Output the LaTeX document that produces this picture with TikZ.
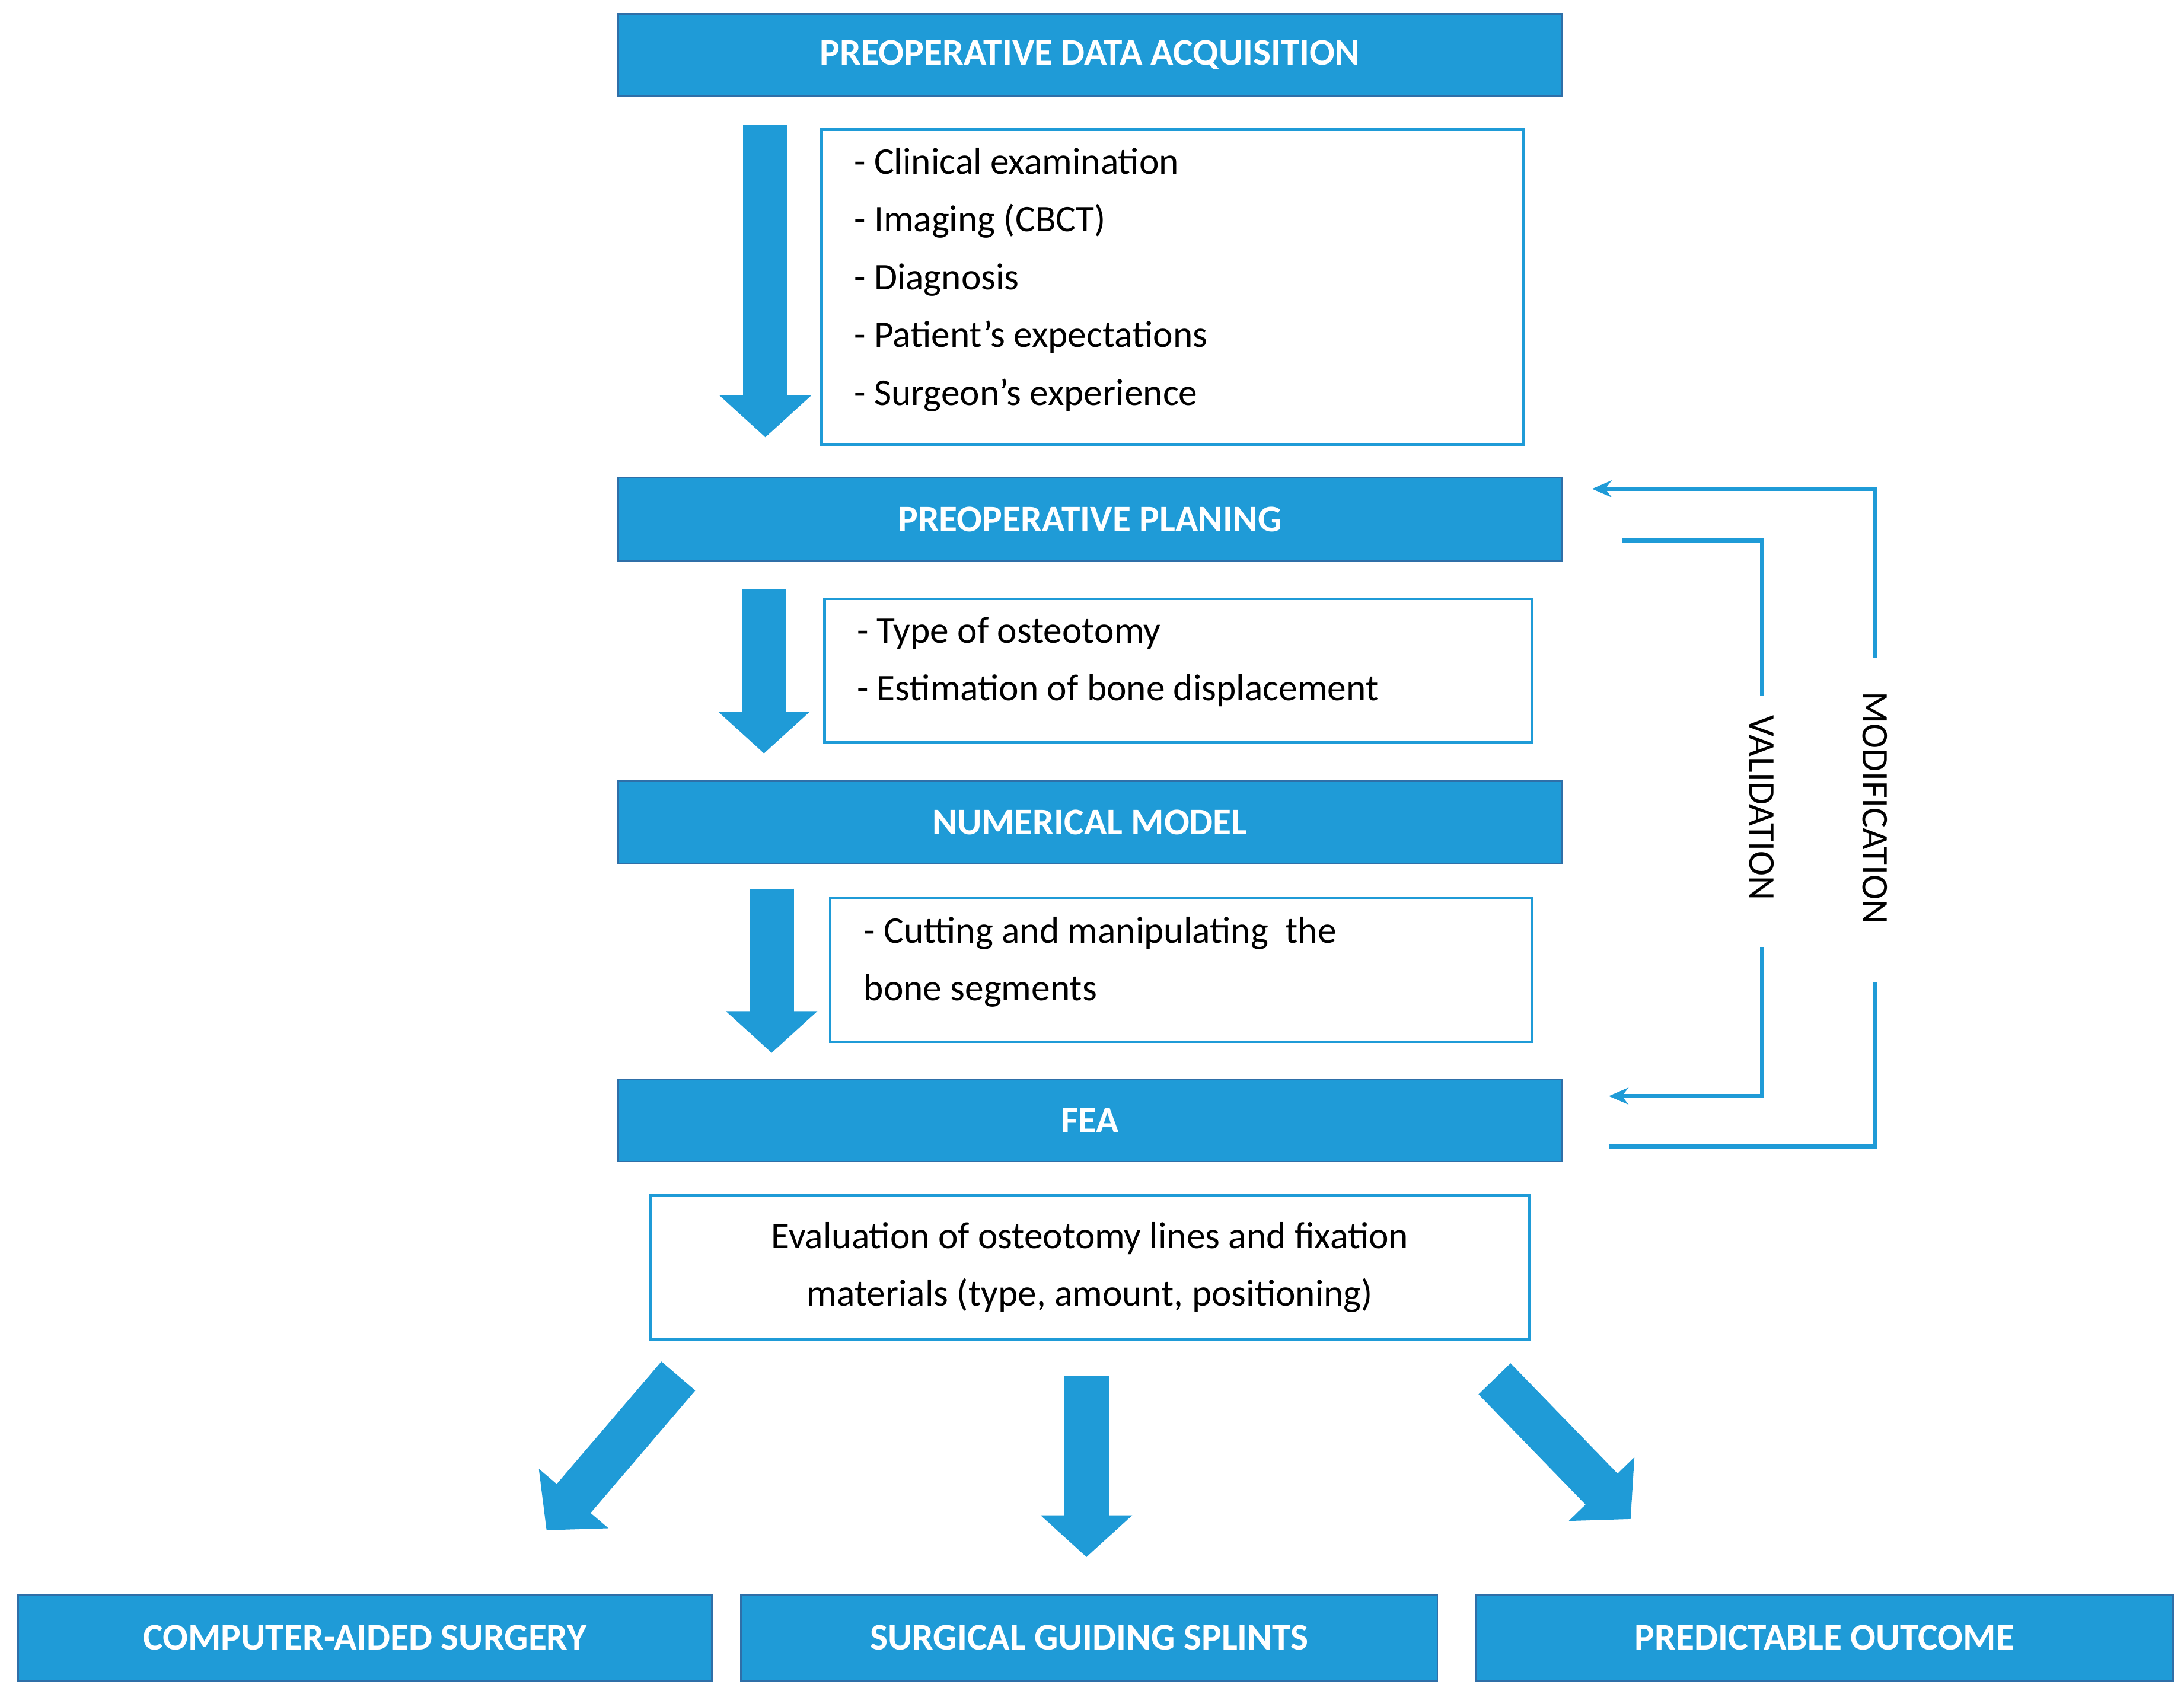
\documentclass[tikz,border=0pt]{standalone}
\usepackage{fontspec}
\setmainfont{Carlito}
\usetikzlibrary{arrows.meta}
\definecolor{bl}{HTML}{1F9BD7}
\definecolor{bd}{HTML}{2F6FA8}
\begin{document}
\begin{tikzpicture}[x=1pt,y=-1pt,
 hdr/.style={draw=bd,line width=1.2pt,fill=bl,text=white,font=\fontsize{27}{32}\selectfont\bfseries,inner sep=0pt},
 lst/.style={draw=bl,line width=2pt,fill=white,font=\fontsize{27}{41.5}\selectfont,inner sep=0pt},
 big/.style={bl,line width=32pt,-{Triangle[width=64pt,length=30pt]}},
 loop/.style={bl,line width=3pt},
 loopa/.style={loop,-{Stealth[length=14pt,width=12pt]}}]
\useasboundingbox (0,0) rectangle (1568,1216);
\fill[white] (0,0) rectangle (1568,1216);
% headers
\node[hdr,minimum width=677pt,minimum height=59pt] (h1) at (782.5,39.5) {PREOPERATIVE DATA ACQUISITION};
\node[hdr,minimum width=677pt,minimum height=60pt] (h2) at (782.5,373) {PREOPERATIVE PLANING};
\node[hdr,minimum width=677pt,minimum height=59pt] (h3) at (782.5,590.5) {NUMERICAL MODEL};
\node[hdr,minimum width=677pt,minimum height=59pt] (h4) at (782.5,804.5) {FEA};
\node[hdr,minimum width=498pt,minimum height=62pt] (b1) at (262,1176) {COMPUTER-AIDED SURGERY};
\node[hdr,minimum width=500pt,minimum height=62pt] (b2) at (782,1176) {SURGICAL GUIDING SPLINTS};
\node[hdr,minimum width=500pt,minimum height=62pt] (b3) at (1310,1176) {PREDICTABLE OUTCOME};
% lists
\node[lst,minimum width=504pt,minimum height=226pt] (l1) at (842,206) {};
\node[anchor=north west,font=\fontsize{27}{41.5}\selectfont,align=left,inner sep=0pt] (t1) at (613,106) {- Clinical examination\\- Imaging (CBCT)\\- Diagnosis\\- Patient’s expectations\\- Surgeon’s experience};
\node[lst,minimum width=508pt,minimum height=103pt] (l2) at (846,481.5) {};
\node[anchor=north west,font=\fontsize{27}{41.5}\selectfont,align=left,inner sep=0pt] (t2) at (615,443) {- Type of osteotomy\\- Estimation of bone displacement};
\node[lst,minimum width=504pt,minimum height=103pt] (l3) at (848,696.5) {};
\node[anchor=north west,font=\fontsize{27}{41.5}\selectfont,align=left,inner sep=0pt] (t3) at (620,658) {- Cutting and manipulating\ \ the\\bone segments};
\node[lst,minimum width=631pt,minimum height=104pt,align=center] (l4) at (782.5,910) {Evaluation of osteotomy lines and fixation\\materials (type, amount, positioning)};
% big arrows
\coordinate (a1s) at (549.5,90); \coordinate (a1e) at (549.5,313);
\coordinate (a2s) at (548.5,423); \coordinate (a2e) at (548.5,540);
\coordinate (a3s) at (554,638); \coordinate (a3e) at (554,755);
\coordinate (a4s) at (780,988); \coordinate (a4e) at (780,1117);
\coordinate (a5s) at (487,988); \coordinate (a5e) at (393,1098);
\coordinate (a6s) at (1073,990); \coordinate (a6e) at (1170,1090);
\foreach \i in {1,...,6}{\draw[big,shorten >=-1pt] (a\i s) -- (a\i e);}
% loops
\coordinate (v0) at (1165,388); \coordinate (v1) at (1265,388); \coordinate (v2) at (1265,500);
\coordinate (v3) at (1265,680); \coordinate (v4) at (1265,787); \coordinate (v5) at (1155,787);
\draw[loop] (v0) -- (v1) -- (v2);
\draw[loopa] (v3) -- (v4) -- (v5);
\node[rotate=-90,font=\fontsize{27}{32}\selectfont] (vl) at (1265,580) {VALIDATION};
\coordinate (m0) at (1155,823); \coordinate (m1) at (1346,823); \coordinate (m2) at (1346,705);
\coordinate (m3) at (1346,472); \coordinate (m4) at (1346,351); \coordinate (m5) at (1143,351);
\draw[loop] (m0) -- (m1) -- (m2);
\draw[loopa] (m3) -- (m4) -- (m5);
\node[rotate=-90,font=\fontsize{27}{32}\selectfont] (ml) at (1346,580) {MODIFICATION};
\end{tikzpicture}
\end{document}
